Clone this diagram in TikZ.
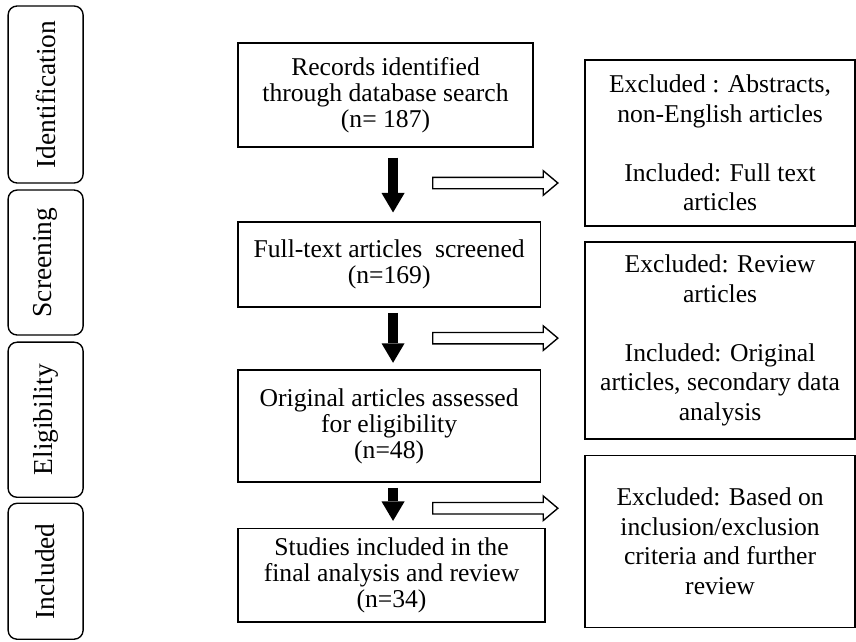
\documentclass[tikz,border=0pt]{standalone}
\usepackage{fontspec}
\setmainfont{Liberation Serif}
\usepackage{tikz}
\usetikzlibrary{arrows.meta, shapes.arrows, positioning}
\tikzstyle{flow} = [-{Triangle[length=0.65cm, width=0.77cm, line width=0pt]}, line width=0.33cm, shorten <=0.17cm, shorten >=0.22cm]

\begin{document}
\begin{tikzpicture}[
  stage/.style={draw, line width=1.3pt, rounded corners=0.3cm, rotate=90, minimum height=2.5cm, inner sep=0pt, font=\fontsize{26}{28}\selectfont},
  mainbox/.style={draw, line width=1.3pt, align=center, inner sep=0pt, font=\fontsize{24.3}{24.7}\selectfont},
  sidebox/.style={draw, line width=1.3pt, align=center, inner sep=0pt, minimum width=9cm, font=\fontsize{24.3}{28}\selectfont},
  skip/.style={draw, line width=1.3pt, single arrow, single arrow head extend=0.22cm, single arrow tip angle=80, inner xsep=0pt, inner ysep=0.167cm, minimum height=4.17cm, anchor=tail}
]
\useasboundingbox (0,0) rectangle (28.53,21.37);

% Stages
\node[stage, minimum width=5.9cm] (ident) at (1.52,18.22) {Identification};
\node[stage, minimum width=4.83cm] (screen) at (1.52,12.62) {Screening};
\node[stage, minimum width=5.17cm] (elig) at (1.52,7.38) {Eligibility};
\node[stage, minimum width=4.53cm] (incl) at (1.52,2.33) {Included};

% Main flow
\node[mainbox, minimum width=9.83cm, minimum height=3.47cm] (records) at (12.85,18.2)
  {Records identified\\through database search\\(n= 187)};
\node[mainbox, minimum width=10.07cm, minimum height=2.83cm] (fulltext) at (12.97,12.55)
  {Full-text articles\ \ screened\\(n=169)};
\node[mainbox, minimum width=10.07cm, minimum height=3.73cm] (original) at (12.97,7.17)
  {Original articles assessed\\for eligibility\\(n=48)};
\node[mainbox, minimum width=10.23cm, minimum height=3.13cm] (studies) at (13.05,2.2)
  {Studies included in the\\final analysis and review\\(n=34)};

% Side boxes
\node[sidebox, minimum height=5.53cm] (excl1) at (24,16.6)
  {Excluded : Abstracts,\\non-English articles\\[28pt]Included: Full text\\articles};
\node[sidebox, minimum height=6.57cm] (excl2) at (24,10.02)
  {Excluded: Review\\articles\\[28pt]Included: Original\\articles, secondary data\\analysis};
\node[sidebox, minimum height=5.73cm] (excl3) at (24,3.33)
  {Excluded: Based on\\inclusion/exclusion\\criteria and further\\review};

% Arrows
\draw[flow, shorten <=0.33cm, shorten >=0.3cm] ([xshift=0.25cm]records.south) -- ([xshift=0.25cm]records.south |- fulltext.north);
\draw[flow] ([xshift=0.13cm]fulltext.south) -- ([xshift=0.13cm]original.north);
\draw[flow] ([xshift=0.13cm]original.south) -- ([xshift=0.13cm]original.south |- studies.north);

\node[skip] (skip1) at (14.4,15.27) {};
\node[skip] (skip2) at (14.4,10.1) {};
\node[skip] (skip3) at (14.4,4.43) {};

\end{tikzpicture}
\end{document}
